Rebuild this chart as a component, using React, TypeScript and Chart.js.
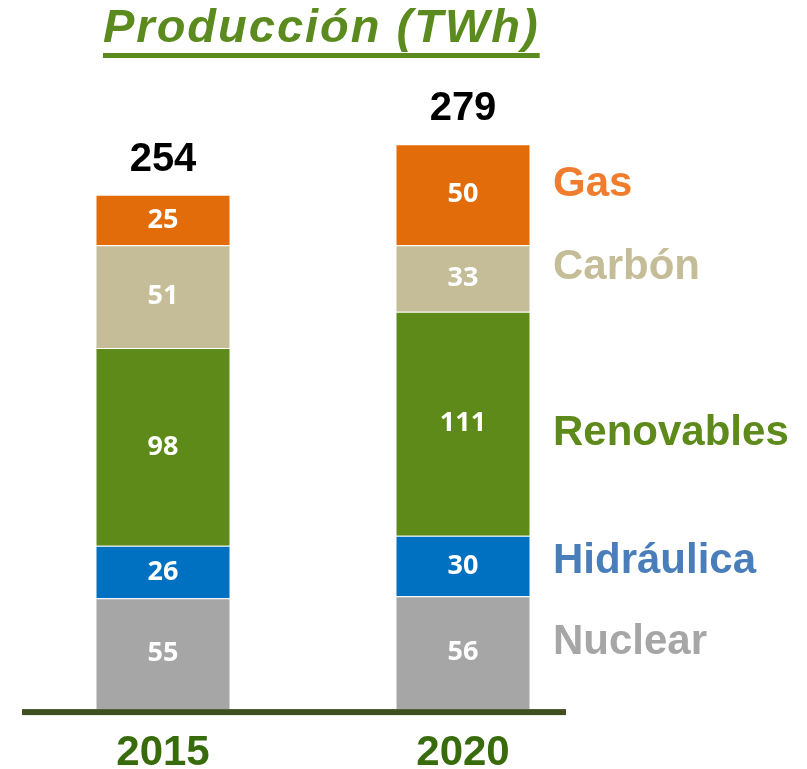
import React, { useEffect, useRef } from "react";
import { Chart, registerables } from "chart.js";

Chart.register(...registerables);

const categories = ["2015", "2020"];
const nuclear = [55, 56];
const hidraulica = [26, 30];
const renovables = [98, 111];
const carbon = [51, 33];
const gas = [25, 50];
const totals = [254, 279];
const seriesNames = ["Nuclear", "Hidráulica", "Renovables", "Carbón", "Gas"];
const titleText = "Producción (TWh)";

const FONT = "'Liberation Sans', Arial, sans-serif";
const barColors = ["#a6a6a6", "#0070c0", "#5e8a1a", "#c4bd97", "#e36c0a"];
const nameColors = ["#a6a6a6", "#4a7ebb", "#5e8a1c", "#c4bd97", "#f07d2e"];
const nameNudge = [-10, -4.5, 10, -11.5, -10];

const overlay = {
  id: "overlay",
  afterDatasetsDraw(chart: any) {
    const ctx = chart.ctx;
    const area = chart.chartArea;
    ctx.save();
    // base axis line
    ctx.fillStyle = "#3f4f1f";
    ctx.fillRect(22, area.bottom, 544, 6);

    // segment value labels
    ctx.textAlign = "center";
    ctx.textBaseline = "middle";
    ctx.font = "bold 27px 'Open Sans', sans-serif";
    ctx.fillStyle = "#ffffff";
    chart.data.datasets.forEach((ds: any, i: number) => {
      const meta = chart.getDatasetMeta(i);
      meta.data.forEach((bar: any, j: number) => {
        const p = bar.getProps(["x", "y", "base"], true);
        ctx.fillText(String(ds.data[j]), p.x, (p.y + p.base) / 2);
      });
    });

    // totals
    const last = chart.data.datasets.length - 1;
    const topMeta = chart.getDatasetMeta(last);
    ctx.font = `bold 40px ${FONT}`;
    ctx.fillStyle = "#000000";
    ctx.textBaseline = "alphabetic";
    totals.forEach((t, j) => {
      const bar = topMeta.data[j];
      const p = bar.getProps(["x", "y"], true);
      ctx.fillText(String(t), p.x, p.y - 24);
    });

    // series names beside the 2020 bar
    ctx.font = `bold 42px ${FONT}`;
    ctx.textAlign = "left";
    ctx.textBaseline = "middle";
    const col = categories.length - 1;
    chart.data.datasets.forEach((ds: any, i: number) => {
      const bar = chart.getDatasetMeta(i).data[col];
      const p = bar.getProps(["y", "base"], true);
      ctx.fillStyle = nameColors[i];
      ctx.fillText(seriesNames[i], 553, (p.y + p.base) / 2 + nameNudge[i]);
    });
    ctx.restore();
  },
};

export default function App() {
  const ref = useRef<HTMLCanvasElement | null>(null);
  useEffect(() => {
    if (!ref.current) return;
    const series = [nuclear, hidraulica, renovables, carbon, gas];
    const chart = new Chart(ref.current, {
      type: "bar",
      data: {
        labels: categories,
        datasets: series.map((d, i) => ({
          label: seriesNames[i],
          data: d,
          backgroundColor: barColors[i],
          borderColor: "rgba(255,255,255,0.35)",
          borderWidth: 1,
          categoryPercentage: 1,
          barPercentage: 0.45,
        })),
      },
      options: {
        responsive: false,
        animation: false,
        devicePixelRatio: 1,
        layout: { padding: { left: 13, right: 194, top: 104, bottom: -28 } },
        plugins: {
          legend: { display: false },
          tooltip: { enabled: false },
          title: { display: false },
        },
        scales: {
          x: {
            stacked: true,
            grid: { display: false, drawTicks: false },
            border: { display: false },
            ticks: {
              color: "#376b0c",
              font: { family: FONT, size: 42, weight: "bold", lineHeight: 0.95 },
              padding: 24,
            },
          },
          y: { stacked: true, display: false, min: 0, max: 300 },
        },
      },
      plugins: [overlay],
    });
    return () => chart.destroy();
  }, []);

  return (
    <div style={{ position: "absolute", left: 0, top: 0, width: 807, height: 769, background: "#fff" }}>
      <div
        style={{
          position: "absolute",
          left: 103,
          top: 2,
          whiteSpace: "nowrap",
          fontFamily: FONT,
          fontStyle: "italic",
          fontWeight: "bold",
          fontSize: 47,
          lineHeight: "47px",
          letterSpacing: "2px",
          color: "#5b8a1e",
          textDecoration: "underline",
          textDecorationThickness: "5px",
          textUnderlineOffset: "11px",
        }}
      >
        {titleText}
      </div>
      <canvas ref={ref} width={807} height={769} style={{ display: "block" }} />
    </div>
  );
}
